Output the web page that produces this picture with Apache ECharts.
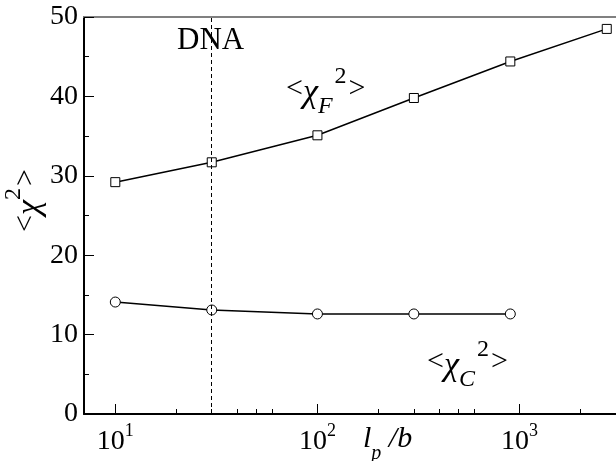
<!DOCTYPE html>
<html>
<head>
<meta charset="utf-8">
<script src="https://cdn.jsdelivr.net/npm/echarts@6/dist/echarts.min.js"></script>
<style>
  html, body { margin: 0; padding: 0; background: #fff; }
  #chart { width: 616px; height: 461px; }
</style>
</head>
<body>
<div id="chart"></div>
<script>
// persistence length l_p/b (x, log scale)
const lpF = [10, 30, 100, 300, 900, 2700];
const chiF = [29.2, 31.7, 35.1, 39.8, 44.4, 48.5];
const lpC = [10, 30, 100, 300, 900];
const chiC = [14.1, 13.1, 12.6, 12.6, 12.6];
const dnaLp = 30;

const xMajor = [10, 100, 1000];
const xMinor = [20, 30, 40, 50, 60, 200, 300, 400, 500, 600, 2000];
const yTicks = [0, 10, 20, 30, 40, 50];

const serif = "Liberation Serif";
const chart = echarts.init(document.getElementById("chart"));

const toPairs = (xs, ys) => xs.map((x, i) => [x, ys[i]]);

const subSup = {
  m: { fontFamily: serif, fontSize: 30, lineHeight: 48, verticalAlign: "middle", color: "#000" },
  c: { fontFamily: serif, fontSize: 34, fontStyle: "italic", lineHeight: 48, verticalAlign: "middle", color: "#000", padding: [8, 0, 0, 0] },
  sub: { fontFamily: serif, fontSize: 24, fontStyle: "italic", lineHeight: 16, verticalAlign: "bottom", color: "#000", padding: [0, 2, -6, 0] },
  sup: { fontFamily: serif, fontSize: 24, lineHeight: 12, verticalAlign: "top", color: "#000", padding: [0, 2, 0, 0] },
};

const logAxis = {
  type: "log",
  logBase: 10,
  min: 7,
  max: 3000,
  splitLine: { show: false },
};

let option = {
  animation: false,
  grid: {
    left: 84,
    top: 17,
    right: -1,
    bottom: 47,
  },
  xAxis: [
    {
      ...logAxis,
      position: "bottom",
      axisLine: { lineStyle: { color: "#000", width: 2 } },
      axisTick: { inside: true, length: 10, customValues: xMajor, lineStyle: { color: "#000", width: 1 } },
      axisLabel: {
        customValues: xMajor,
        margin: 8,
        formatter: (v) => "{b|10}{s|" + Math.round(Math.log10(v)) + "}",
        rich: {
          b: { fontFamily: serif, fontSize: 28, lineHeight: 34, verticalAlign: "bottom", color: "#000" },
          s: { fontFamily: serif, fontSize: 18, lineHeight: 18, verticalAlign: "top", color: "#000" },
        },
      },
    },
    {
      ...logAxis,
      position: "bottom",
      axisLine: { show: false },
      axisTick: { inside: true, length: 5, customValues: xMinor, lineStyle: { color: "#000", width: 1 } },
      axisLabel: { show: false },
    },
    {
      ...logAxis,
      position: "top",
      axisLine: { lineStyle: { color: "#808080", width: 2 } },
      axisTick: { show: false },
      axisLabel: { show: false },
    },
  ],
  yAxis: {
    type: "value",
    min: 0,
    max: 50,
    interval: 10,
    axisLine: { show: true, lineStyle: { color: "#000", width: 2 } },
    axisTick: { show: true, inside: true, length: 10, lineStyle: { color: "#000", width: 1 } },
    minorTick: { show: true, splitNumber: 2, length: 5, lineStyle: { color: "#000", width: 1 } },
    axisLabel: {
      margin: 6,
      fontFamily: serif,
      fontSize: 28,
      color: "#000",
      customValues: yTicks,
    },
    splitLine: { show: false },
  },
  series: [
    {
      name: "F",
      type: "line",
      data: toPairs(lpF, chiF),
      symbol: "rect",
      symbolSize: 9,
      lineStyle: { color: "#000", width: 1.5 },
      itemStyle: { color: "#fff", borderColor: "#000", borderWidth: 1 },
      markLine: {
        silent: true,
        symbol: "none",
        label: { show: false },
        lineStyle: { color: "#000", width: 1, type: [4, 3] },
        data: [{ xAxis: dnaLp }],
      },
      z: 3,
    },
    {
      name: "C",
      type: "line",
      data: toPairs(lpC, chiC),
      symbol: "circle",
      symbolSize: 10,
      lineStyle: { color: "#000", width: 1.5 },
      itemStyle: { color: "#fff", borderColor: "#000", borderWidth: 1 },
      z: 3,
    },
  ],
  graphic: [
    {
      type: "text",
      left: 177,
      top: 25,
      style: { text: "DNA", fontFamily: serif, fontSize: 31, fill: "#000" },
    },
    {
      type: "text",
      left: 286,
      top: 65,
      style: { text: "{m|<}{c|χ}{sub|F}{sup|2}{m|>}", rich: subSup },
    },
    {
      type: "text",
      left: 427,
      top: 338,
      style: { text: "{m|<}{c|χ}{sub|C}{sup|2}{m|>}", rich: subSup },
    },
    {
      type: "text",
      left: 363,
      top: 424,
      style: {
        text: "{i|l}{sub|p}{i| /b}",
        rich: {
          i: { fontFamily: serif, fontSize: 30, fontStyle: "italic", lineHeight: 32, verticalAlign: "top", color: "#000" },
          sub: { fontFamily: serif, fontSize: 20, fontStyle: "italic", lineHeight: 18, verticalAlign: "bottom", color: "#000", padding: [0, 0, -8, 0] },
        },
      },
    },
    {
      type: "text",
      rotation: Math.PI / 2,
      x: 2,
      y: 232,
      style: {
        text: "{m|<}{c|χ}{sup|2}{m|>}",
        rich: subSup,
      },
    },
  ],
};

chart.setOption(option);
</script>
</body>
</html>
